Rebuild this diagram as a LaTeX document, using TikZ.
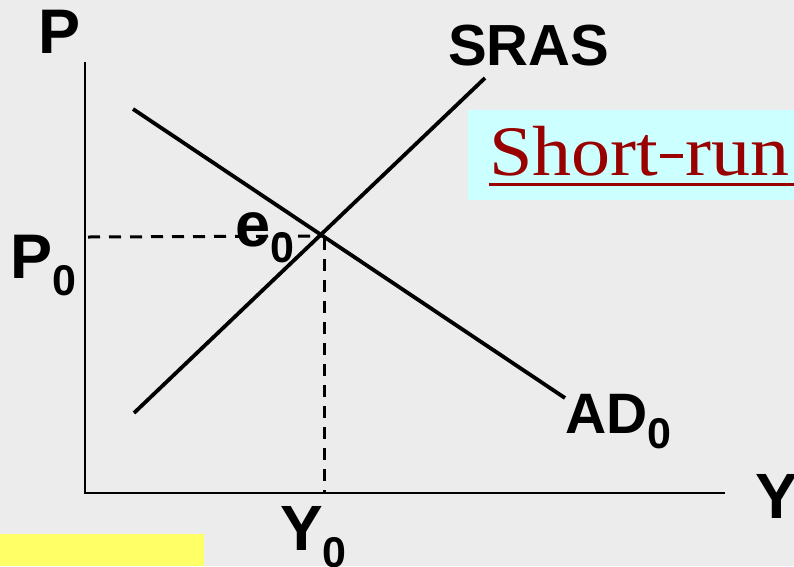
\documentclass[tikz,border=0pt]{standalone}
\usepackage{fontspec}
\setmainfont{Liberation Sans}
\newfontfamily\serifx{Liberation Serif}
\definecolor{bgpaper}{RGB}{236,236,236}
\definecolor{cyanbox}{RGB}{204,255,255}
\definecolor{yellowbox}{RGB}{255,255,102}
\definecolor{darkred}{RGB}{153,0,0}
\newcommand\subzero[1]{\raisebox{-#1pt}{\fontsize{43}{43}\selectfont 0}}
\begin{document}
\begin{tikzpicture}[x=1pt,y=-1pt,
  lbl/.style={inner sep=0pt, anchor=base west, font=\bfseries},
  axisline/.style={line width=2.8pt},
  curve/.style={line width=3.8pt},
  guide/.style={line width=3pt, dash pattern=on 12pt off 9pt}]
\useasboundingbox (0,0) rectangle (794,566);
\fill[bgpaper] (0,0) rectangle (794,566);
% boxes
\fill[cyanbox] (468,110) rectangle (794,200);
\fill[yellowbox] (0,534) rectangle (204,566);
% axes
\coordinate (o) at (85,493);
\coordinate (ytop) at (85,62);
\coordinate (xend) at (725,493);
\draw[axisline] (ytop) -- (o) -- (xend);
% curves
\coordinate (ad1) at (133,109);
\coordinate (ad2) at (565,398);
\coordinate (sr1) at (134,413);
\coordinate (sr2) at (485,78);
\draw[curve] (ad1) -- (ad2);
\draw[curve] (sr1) -- (sr2);
% equilibrium guides
\coordinate (e) at (322,236);
\coordinate (p0) at (88,237);
\coordinate (y0) at (324,493);
\draw[guide] (p0) -- (e);
\draw[guide] (324,238) -- (y0);
% labels
\node[lbl, font=\bfseries\fontsize{63}{63}\selectfont] (lp) at (38,53) {P};
\node[lbl, font=\bfseries\fontsize{63}{63}\selectfont] (lp0) at (10,278) {P\subzero{17}};
\node[lbl, font=\bfseries\fontsize{58}{58}\selectfont] (lsras) at (448,65) {SRAS};
\node[lbl, font=\bfseries\fontsize{63}{63}\selectfont] (le0) at (235,246) {e\subzero{16}};
\node[lbl, font=\bfseries\fontsize{57}{57}\selectfont] (lad) at (565,433) {AD\subzero{15}};
\node[lbl, font=\bfseries\fontsize{64}{64}\selectfont] (ly) at (755,518) {Y};
\node[lbl, font=\bfseries\fontsize{64}{64}\selectfont] (ly0) at (280,550) {Y\subzero{17}};
% short-run
\node[inner sep=0pt, anchor=base west, text=darkred, font=\serifx\fontsize{71}{71}\selectfont] (lsr) at (489,175) {\scalebox{1.1}[1]{Short\hspace{0.02em}\rule[0.24em]{0.3em}{0.055em}\hspace{0.02em}run}};
\draw[darkred, line width=3pt] (489,184) -- (794,184);
\end{tikzpicture}
\end{document}
